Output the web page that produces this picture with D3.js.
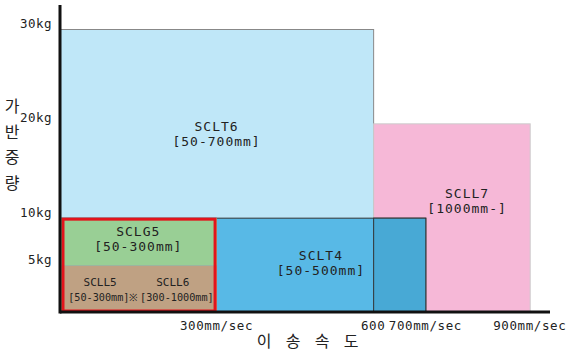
<!DOCTYPE html>
<html><head><meta charset="utf-8">
<script src="https://cdn.jsdelivr.net/npm/d3@7"></script>
<style>
body{margin:0;background:#fff;}
text{font-family:"DejaVu Sans Mono","Liberation Mono",monospace;fill:#222;}
</style></head>
<body><svg id="c" width="568" height="351"></svg>
<script>
// Data (speed in mm/sec, payload in kg)
const boxNames  = ["SCLT6","SCLL7","SCLT4","overlap","SCLL56","SCLG5"];
const boxX0     = [0, 600, 0, 600, 0, 0];
const boxX1     = [600, 900, 700, 700, 300, 300];
const boxY0     = [0, 0, 0, 0, 0, 5];
const boxY1     = [30, 20, 10, 10, 5, 10];
const boxColors = ["#bfe7f8","#f6b8d7","#58b9e6","#48a9d5","#bfa183","#99cf95"];
const boxStroke = ["#888","#ccc","#333","#333","none","none"];
const yTicks = [5, 10, 20, 30];
const yTickLabels = ["5kg","10kg","20kg","30kg"];
const xTicks = [300, 600, 700, 900];
const xTickLabels = ["300mm/sec","600","700mm/sec","900mm/sec"];
// text lines: content, speed position, payload position, font size
const labelText = ["SCLT6","[50-700mm]","SCLL7","[1000mm-]","SCLT4","[50-500mm]","SCLG5","[50-300mm]","SCLL5","[50-300mm]※","SCLL6","[300-1000mm]"];
const labelX    = [300, 300, 780, 780, 500, 500, 150, 150, 77, 83, 216, 224];
const labelY    = [19.2, 17.6, 12.1, 10.5, 5.5, 3.9, 8.1, 6.5, 2.8, 1.2, 2.8, 1.2];
const labelSize = [13, 13, 13, 13, 13, 13, 13, 13, 11, 10.2, 11, 10.2];
const yTitle = ["가","반","중","량"];
const xTitle = ["이","송","속","도"];

const svg = d3.select("#c");
const x = d3.scaleLinear().domain([0, 900]).range([60, 529.7]);
const y = d3.scaleLinear().domain([0, 30]).range([312, 29]);

const boxes = boxNames.map((n,i)=>({n, x0:boxX0[i], x1:boxX1[i], y0:boxY0[i], y1:boxY1[i], c:boxColors[i], s:boxStroke[i]}));
svg.selectAll("rect.box").data(boxes).join("rect").attr("class","box")
  .attr("x", d=>x(d.x0)+0.5).attr("y", d=>y(d.y1)+0.5)
  .attr("width", d=>x(d.x1)-x(d.x0)).attr("height", d=>y(d.y0)-y(d.y1))
  .attr("fill", d=>d.c).attr("stroke", d=>d.s).attr("stroke-width",1);

// red frame around SCLG5 / SCLL5-6 group
svg.append("rect")
  .attr("x", x(0)+3).attr("y", y(10)+1.5)
  .attr("width", x(300)-x(0)-4.5).attr("height", y(0)-y(10)-2.5)
  .attr("fill","none").attr("stroke","#e3141c").attr("stroke-width",3);

// labels
svg.selectAll("text.lbl").data(labelText).join("text").attr("class","lbl")
  .attr("text-anchor","middle")
  .attr("x",(d,i)=>x(labelX[i])).attr("y",(d,i)=>y(labelY[i]))
  .attr("font-size",(d,i)=>labelSize[i])
  .attr("letter-spacing",(d,i)=>labelSize[i]>12?1:0)
  .text(d=>d);

// axes
svg.append("line").attr("x1",x(0)).attr("x2",x(0)).attr("y1",5).attr("y2",y(0)+1.5)
  .attr("stroke","#111").attr("stroke-width",3);
svg.append("line").attr("x1",x(0)).attr("x2",550).attr("y1",y(0)).attr("y2",y(0))
  .attr("stroke","#111").attr("stroke-width",3);

svg.selectAll("text.yt").data(yTicks).join("text").attr("class","yt")
  .attr("x",52).attr("y",d=>y(d)-1).attr("text-anchor","end").attr("font-size",12.5)
  .attr("letter-spacing",0.5).text((d,i)=>yTickLabels[i]);
svg.selectAll("text.xt").data(xTicks).join("text").attr("class","xt")
  .attr("x",d=>x(d)).attr("y",330).attr("text-anchor","middle").attr("font-size",12.5)
  .attr("letter-spacing",0.6).text((d,i)=>xTickLabels[i]);

// titles
svg.selectAll("text.ytl").data(yTitle).join("text").attr("class","ytl")
  .attr("x",12).attr("y",(d,i)=>112+i*25.5).attr("text-anchor","middle")
  .attr("font-size",16).style("font-family","'Noto Sans CJK KR'").text(d=>d);
svg.selectAll("text.xtl").data(xTitle).join("text").attr("class","xtl")
  .attr("x",(d,i)=>264+i*29).attr("y",347).attr("text-anchor","middle")
  .attr("font-size",16).style("font-family","'Noto Sans CJK KR'").text(d=>d);
</script></body></html>
